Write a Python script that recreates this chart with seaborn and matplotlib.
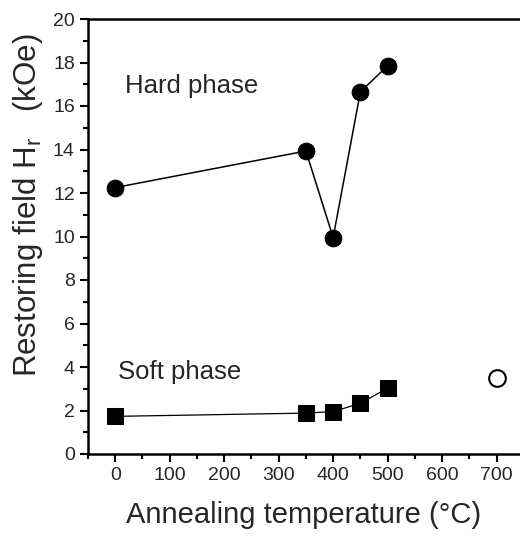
import matplotlib
matplotlib.use('Agg')
import matplotlib.pyplot as plt
import seaborn as sns
from matplotlib.ticker import MultipleLocator

# data
temp_hard = [0, 350, 400, 450, 500]
hr_hard = [12.25, 13.93, 9.95, 16.65, 17.85]
temp_soft = [0, 350, 400, 450, 500]
hr_soft = [1.73, 1.88, 1.95, 2.33, 3.03]
temp_open = [700]
hr_open = [3.48]

sns.set_style('ticks')
plt.rcParams['font.family'] = ['Liberation Sans', 'DejaVu Sans']
plt.rcParams['mathtext.fontset'] = 'custom'
plt.rcParams['mathtext.rm'] = 'Liberation Sans'
plt.rcParams['mathtext.it'] = 'Liberation Sans'

fig = plt.figure(figsize=(5.2, 5.38), dpi=100)
ax = fig.add_axes([88/520, 1 - 454/538, 1 - 88/520, (454 - 19)/538])

sns.lineplot(x=temp_hard, y=hr_hard, ax=ax, color='black', linewidth=1.1,
             marker='o', markersize=12, markeredgecolor='black')
sns.lineplot(x=temp_soft, y=hr_soft, ax=ax, color='black', linewidth=0.9,
             marker='s', markersize=11, markeredgecolor='black')
ax.plot(temp_open, hr_open, linestyle='none', marker='o', markersize=12,
        markerfacecolor='white', markeredgecolor='black', markeredgewidth=1.5)

ax.set_xlim(-50, 743)
ax.set_ylim(0, 20)
ax.xaxis.set_major_locator(MultipleLocator(100))
ax.xaxis.set_minor_locator(MultipleLocator(50))
ax.yaxis.set_major_locator(MultipleLocator(2))
ax.yaxis.set_minor_locator(MultipleLocator(1))
ax.tick_params(which='major', direction='out', length=6, width=1.5, labelsize=14, color='black')
ax.tick_params(which='minor', direction='out', length=3.5, width=1.5, color='black')

for side in ['left', 'bottom', 'top']:
    ax.spines[side].set_linewidth(1.8)
    ax.spines[side].set_color('black')
ax.spines['right'].set_visible(False)

ax.set_xlabel('Annealing temperature (°C)', fontsize=21, labelpad=12)
ax.set_ylabel('Restoring field H$_r$   (kOe)', fontsize=22.5, labelpad=6, y=0.572)

ax.text(18, 16.9, 'Hard phase', fontsize=18.5, ha='left', va='center')
ax.text(5, 3.75, 'Soft phase', fontsize=18.5, ha='left', va='center')

fig.savefig('out.png', dpi=100)
